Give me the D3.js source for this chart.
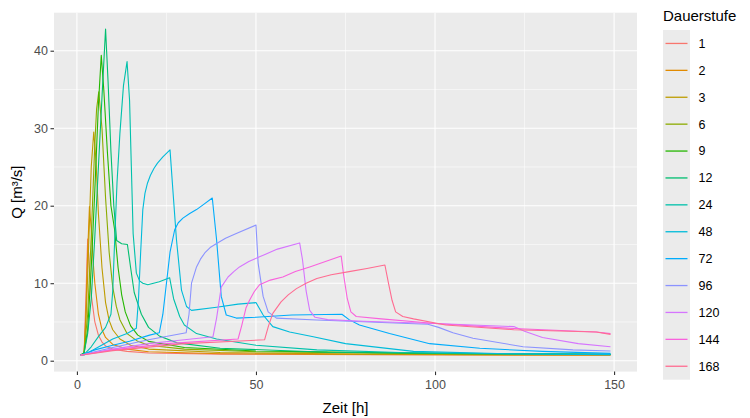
<!DOCTYPE html>
<html><head><meta charset="utf-8">
<script src="https://cdn.jsdelivr.net/npm/d3@7/dist/d3.min.js"></script>
<style>body{margin:0;background:#fff}svg{display:block}</style>
</head><body>
<svg id="c" width="750" height="418"></svg>
<script>
// ---------- data ----------
const dauerstufen = ["1","2","3","6","9","12","24","48","72","96","120","144","168"];
const colors = ["#F8766D","#E18A00","#BE9C00","#8CAB00","#24B700","#00BE70","#00C1AB","#00BBDA","#00ACFC","#8B93FF","#D575FE","#F962DD","#FF6C91"];
const xTicks = [0, 50, 100, 150];
const yTicks = [0, 10, 20, 30, 40];
const xMinor = [25, 75, 125];
const yMinor = [5, 15, 25, 35];

// [Zeit h, Q m³/s]
const q1 = [[1,0.7],[2,0.8],[2.5,8],[3,15.7],[3.5,12],[4,8.5],[5,5],[6,3.3],[7,2.4],[8,1.9],[10,1.5],[14,1.2],[20,1.0],[40,0.85],[80,0.78],[149,0.72]];
const q2 = [[1,0.7],[2,0.9],[2.5,6],[3,14],[3.5,19.9],[4,17],[4.5,13],[5,10],[6,6],[7,4],[8,3],[10,2.1],[14,1.5],[20,1.15],[40,0.9],[80,0.8],[149,0.73]];
const q3 = [[1,0.7],[2,1],[2.5,5],[3,11],[3.5,18],[4,25],[4.7,29.5],[5.3,26],[6,19],[7,12],[8,7.5],[9,5.2],[10,4],[12,2.8],[15,2],[20,1.5],[40,1.05],[80,0.85],[149,0.75]];
const q6 = [[1,0.7],[2,1],[3,6],[4,16],[5,28],[5.5,32.5],[6.1,34.7],[7,30],[8,21],[9,14],[10,9.5],[11,7],[12,5.3],[14,3.5],[17,2.5],[20,2],[30,1.5],[50,1.15],[100,0.9],[149,0.8]];
const q9 = [[1,0.7],[2,1],[3,4],[4,12],[5,22],[6,33],[6.8,39.4],[7.5,35],[8.5,27],[9.5,20],[10.5,17],[11.5,12],[12.5,8.5],[13.5,6.3],[15,4.5],[17,3.3],[20,2.5],[30,1.7],[50,1.25],[100,0.95],[149,0.82]];
const q12 = [[1,0.7],[2,1],[3,3.5],[4,8],[5,16],[6,25],[7,34],[8,42.8],[8.7,36],[9.5,27],[10.3,20],[11.1,15.5],[12.5,15.1],[14.1,15],[15,12],[16,8.8],[16.7,7.8],[18,6],[20,4.3],[23,3.2],[28,2.3],[40,1.6],[70,1.1],[110,0.9],[149,0.82]];
const q24 = [[1,0.7],[2,0.8],[4,1.8],[6,3.1],[8,4.3],[9.5,6],[10,9],[10.5,15],[11.2,23],[12,29.3],[13,35.5],[14,38.6],[14.7,33.6],[15.2,25],[15.7,16.4],[16.6,11.3],[17.5,10.3],[18.4,10],[19.8,9.8],[23,10.2],[25.9,10.7],[27,8],[28.7,5.7],[30,4.6],[33.4,3.5],[39,2.8],[50,2.0],[67,1.4],[90,1.05],[120,0.9],[149,0.82]];
const q48 = [[1,0.7],[2,0.75],[5,1.5],[10,2.8],[14,3.5],[16.6,4.2],[17.2,8],[17.8,14],[18.4,19.5],[19,21.6],[19.7,22.9],[20.5,23.9],[21.5,24.8],[22.5,25.5],[24,26.3],[26,27.2],[26.8,22],[27.8,15.6],[29.2,9.1],[30.6,7.0],[32,6.5],[39,6.9],[45,7.3],[50,7.5],[52,5.9],[54.7,4.4],[59.4,3.7],[66,3.1],[75,2.2],[94,1.2],[120,0.9],[149,0.78]];
const q72 = [[1,0.7],[5,1.4],[10,2.0],[14.7,2.5],[20.3,3.3],[23,3.6],[24,6],[25,10],[26,14],[27.3,16.9],[28.3,17.8],[29.6,18.4],[31.5,19],[33.4,19.5],[35.5,20.2],[37.8,21],[39,15.6],[40.3,8.3],[41.7,5.9],[44.5,5.5],[50,5.6],[60,5.9],[74,6.0],[76,5.3],[78.9,4.6],[87.3,3.5],[98.5,2.2],[112.5,1.6],[130,1.2],[149,0.95]];
const q96 = [[1,0.7],[10,1.7],[20,2.7],[30.5,3.6],[31.3,6],[32,10],[33.4,12.1],[34.5,13.1],[35.7,13.9],[37.2,14.6],[38.9,15.1],[41.5,15.8],[44.5,16.4],[50,17.5],[50.6,12.6],[52,8.3],[53.4,6.3],[55.7,5.5],[67,5.25],[76,5.1],[98,4.7],[101,4.3],[105,3.6],[110.6,2.9],[124.6,1.8],[138.5,1.4],[149,1.25]];
const q120 = [[1,0.7],[10,1.5],[20,2.2],[30,2.7],[38,3.1],[39,5.5],[40.3,9.5],[42.2,10.8],[43.8,11.5],[45.4,12.1],[48,12.8],[51,13.4],[56,14.4],[62.2,15.2],[63,13],[64,9],[65,6.5],[66.5,5.6],[70,5.3],[80,5.1],[100,4.8],[122,4.4],[125,3.8],[130,3.0],[140,2.2],[149,1.8]];
const q144 = [[1,0.7],[10,1.4],[25,2.2],[45,2.8],[46,4.5],[47.2,6.8],[48.2,7.8],[49.5,8.9],[51,9.8],[54,10.4],[57.5,10.8],[61,11.5],[65,12.1],[73.8,13.5],[74.5,11],[75.5,8],[76.5,6.3],[78,5.7],[85,5.4],[100,4.8],[120,4.2],[145,3.7],[149,3.5]];
const q168 = [[1,0.7],[10,1.3],[30,2.2],[52.4,2.7],[53.5,4.5],[54.7,6.1],[57,7.6],[59,8.5],[61.3,9.3],[64,10],[67,10.6],[71,11.1],[76,11.5],[81,11.9],[86,12.35],[87,10],[88,7.8],[89,6.3],[91,5.7],[94,5.4],[103,4.6],[122,4.0],[145,3.7],[149,3.4]];
const seriesData = [q1,q2,q3,q6,q9,q12,q24,q48,q72,q96,q120,q144,q168];

// ---------- layout ----------
const svg = d3.select("#c");
const P = {l:54, r:637, t:12.7, b:371.6};
const allX = seriesData.flat().map(d=>d[0]), allY = seriesData.flat().map(d=>d[1]);
const [x0,x1] = d3.extent(allX), [y0,y1] = d3.extent(allY);
const px = (x1-x0)*0.05, py = (y1-y0)*0.05;
const x = d3.scaleLinear().domain([x0-px, x1+px]).range([P.l, P.r]);
const y = d3.scaleLinear().domain([y0-py, y1+py]).range([P.b, P.t]);
const font = "'Liberation Sans', Arial, sans-serif";

svg.append("rect").attr("x",P.l).attr("y",P.t).attr("width",P.r-P.l).attr("height",P.b-P.t).attr("fill","#EBEBEB");
const g = svg.append("g");
g.selectAll(".xmin").data(xMinor).join("line").attr("x1",d=>x(d)).attr("x2",d=>x(d)).attr("y1",P.t).attr("y2",P.b).attr("stroke","#fff").attr("stroke-width",0.55);
g.selectAll(".ymin").data(yMinor).join("line").attr("y1",d=>y(d)).attr("y2",d=>y(d)).attr("x1",P.l).attr("x2",P.r).attr("stroke","#fff").attr("stroke-width",0.55);
g.selectAll(".xmaj").data(xTicks).join("line").attr("x1",d=>x(d)).attr("x2",d=>x(d)).attr("y1",P.t).attr("y2",P.b).attr("stroke","#fff").attr("stroke-width",1.1);
g.selectAll(".ymaj").data(yTicks).join("line").attr("y1",d=>y(d)).attr("y2",d=>y(d)).attr("x1",P.l).attr("x2",P.r).attr("stroke","#fff").attr("stroke-width",1.1);

// lines
const line = d3.line().x(d=>x(d[0])).y(d=>y(d[1]));
const lg = svg.append("g");
seriesData.forEach((s,i)=>{
  lg.append("path").attr("d",line(s)).attr("fill","none").attr("stroke",colors[i]).attr("stroke-width",1.1).attr("stroke-linejoin","round");
});

// axes
const xAxis = d3.axisBottom(x).tickValues(xTicks).tickSize(3.5).tickPadding(2.5);
const yAxis = d3.axisLeft(y).tickValues(yTicks).tickSize(3.5).tickPadding(2.5);
const gx = svg.append("g").attr("transform",`translate(0,${P.b})`).call(xAxis);
const gy = svg.append("g").attr("transform",`translate(${P.l},0)`).call(yAxis);
[gx,gy].forEach(a=>{
  a.select(".domain").remove();
  a.selectAll(".tick line").attr("stroke","#333").attr("stroke-width",1.1);
  a.selectAll(".tick text").attr("fill","#4D4D4D").style("font-family",font).style("font-size","12.5px");
});
gx.selectAll(".tick text").attr("dy","0.9em");

svg.append("text").attr("x",(P.l+P.r)/2).attr("y",413).attr("text-anchor","middle")
  .style("font-family",font).style("font-size","15px").attr("fill","#000").text("Zeit [h]");
svg.append("text").attr("transform",`translate(22,${(P.t+P.b)/2}) rotate(-90)`).attr("text-anchor","middle")
  .style("font-family",font).style("font-size","15px").attr("fill","#000").text("Q [m³/s]");

// legend
const L = {x:663, y:30, kw:27, kh:26.9};
svg.append("text").attr("x",L.x).attr("y",20.5).style("font-family",font).style("font-size","15px").attr("fill","#000").text("Dauerstufe");
svg.append("rect").attr("x",L.x).attr("y",L.y).attr("width",L.kw).attr("height",L.kh*dauerstufen.length).attr("fill","#EBEBEB");
const li = svg.selectAll(".leg").data(dauerstufen).join("g").attr("transform",(d,i)=>`translate(${L.x},${L.y+i*L.kh})`);
li.append("line").attr("x1",2.5).attr("x2",L.kw-2.5).attr("y1",L.kh/2).attr("y2",L.kh/2).attr("stroke",(d,i)=>colors[i]).attr("stroke-width",1.3);
li.append("text").attr("x",L.kw+8.5).attr("y",L.kh/2).attr("dy","0.35em").style("font-family",font).style("font-size","12.5px").attr("fill","#000").text(d=>d);
</script>
</body></html>
